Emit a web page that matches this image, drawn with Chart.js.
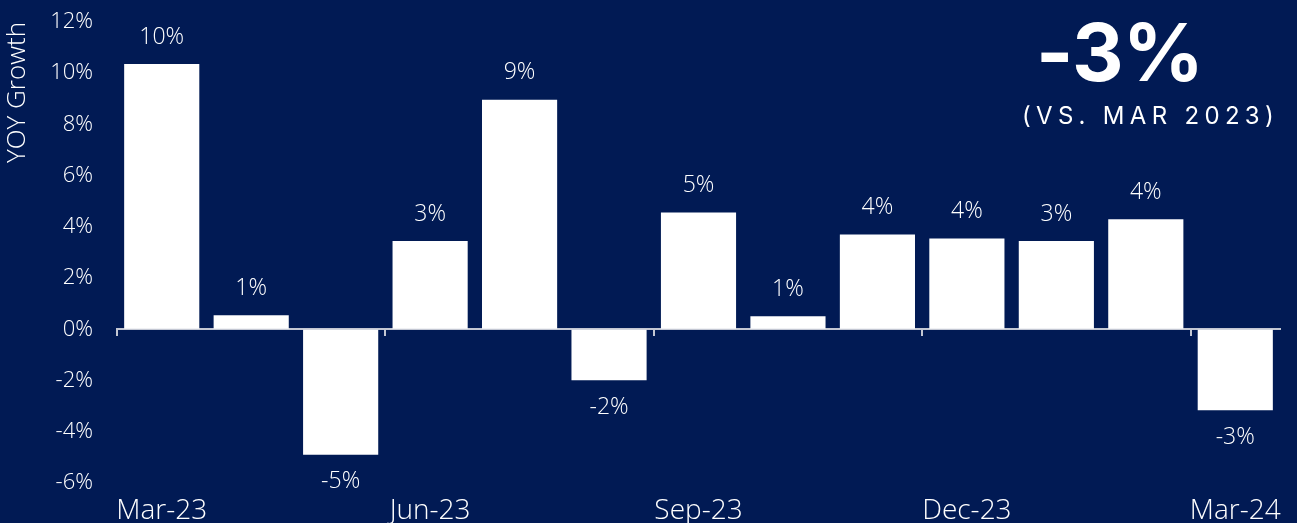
<!DOCTYPE html>
<html>
<head>
<meta charset="utf-8">
<script src="https://cdn.jsdelivr.net/npm/chart.js@4"></script>
<style>
  html, body { margin: 0; padding: 0; background: #011a54; }
  #wrap { position: relative; width: 1297px; height: 523px; }
  #big { position: absolute; left: 1036px; top: 4px; font-family: Inter, sans-serif; font-weight: 700;
         font-size: 80px; color: #fff; letter-spacing: -1px; line-height: 96px; }
  #sub { position: absolute; left: 1022px; top: 101px; font-family: Inter, sans-serif; font-weight: 400;
         font-size: 24px; color: #fff; letter-spacing: 5.3px; line-height: 30px; white-space: nowrap; }
</style>
</head>
<body>
<div id="wrap">
  <canvas id="growthChart"></canvas>
  <div id="big">-3%</div>
  <div id="sub">(VS. MAR 2023)</div>
</div>
<script>
// monthly YOY growth, Mar-23 .. Mar-24
const months = ["Mar-23", "Apr-23", "May-23", "Jun-23", "Jul-23", "Aug-23", "Sep-23",
                "Oct-23", "Nov-23", "Dec-23", "Jan-24", "Feb-24", "Mar-24"];
const growth = [10.36, 0.55, -4.9, 3.45, 8.96, -1.99, 4.56, 0.51, 3.7, 3.55, 3.45, 4.3, -3.16];
const shownMonths = ["Mar-23", "Jun-23", "Sep-23", "Dec-23", "Mar-24"];

const textFont = "'Open Sans', Lato, sans-serif";

// value labels above / below each bar
const barLabels = {
    id: "barLabels",
    afterDatasetsDraw(chart) {
        const ctx = chart.ctx;
        const meta = chart.getDatasetMeta(0);
        ctx.save();
        ctx.fillStyle = "#ffffff";
        ctx.font = "300 23px " + textFont;
        ctx.textAlign = "center";
        ctx.textBaseline = "middle";
        meta.data.forEach((bar, i) => {
            const v = growth[i];
            const y = v >= 0 ? bar.y - 27 : bar.y + 27;
            ctx.fillText(Math.round(v) + "%", bar.x, y);
        });
        ctx.restore();
    }
};

new Chart(document.getElementById("growthChart"), {
    type: "bar",
    data: {
        labels: months,
        datasets: [{
            label: "YOY Growth",
            data: growth,
            backgroundColor: "#ffffff",
            borderWidth: 0,
            categoryPercentage: 1,
            barPercentage: 0.84,
        }],
    },
    options: {
        responsive: true,
        maintainAspectRatio: false,
        animation: false,
        layout: { padding: { top: 22, right: 17, left: 0, bottom: 0 } },
        plugins: {
            legend: { display: false },
            tooltip: { enabled: false },
        },
        scales: {
            x: {
                position: "bottom",
                grid: { display: false },
                border: { display: false },
                ticks: {
                    autoSkip: false,
                    maxRotation: 0,
                    color: "#ffffff",
                    font: { family: textFont, size: 28, weight: 300 },
                    padding: 3,
                    callback: function (value) {
                        const lab = this.getLabelForValue(value);
                        return shownMonths.includes(lab) ? lab : "";
                    },
                },
                afterFit: (scale) => { scale.height = 40; },
            },
            zero: {
                type: "category",
                axis: "x",
                position: { y: 0 },
                offset: true,
                grid: {
                    offset: true,
                    drawOnChartArea: false,
                    drawTicks: true,
                    tickLength: 6,
                    lineWidth: 2,
                    color: (c) => (c.index % 3 === 0 ? "#c3c7d3" : "rgba(0,0,0,0)"),
                },
                border: { display: true, color: "#c3c7d3", width: 2 },
                ticks: { display: false },
            },
            y: {
                min: -6,
                max: 12,
                // invisible tick marks keep the labels away from the bars
                grid: { display: true, drawOnChartArea: false, drawTicks: true, tickLength: 20, color: "rgba(0,0,0,0)" },
                border: { display: false },
                ticks: {
                    stepSize: 2,
                    color: "#ffffff",
                    padding: 4,
                    font: { family: textFont, size: 22, weight: 300 },
                    callback: (v) => v + "%",
                },
                title: {
                    display: true,
                    text: "YOY Growth",
                    align: "end",
                    color: "#ffffff",
                    font: { family: textFont, size: 26, weight: 300 },
                    padding: { top: 2, bottom: 0 },
                },
                afterFit: (scale) => { scale.width = 117; },
            },
        },
    },
    plugins: [barLabels],
});
</script>
</body>
</html>
